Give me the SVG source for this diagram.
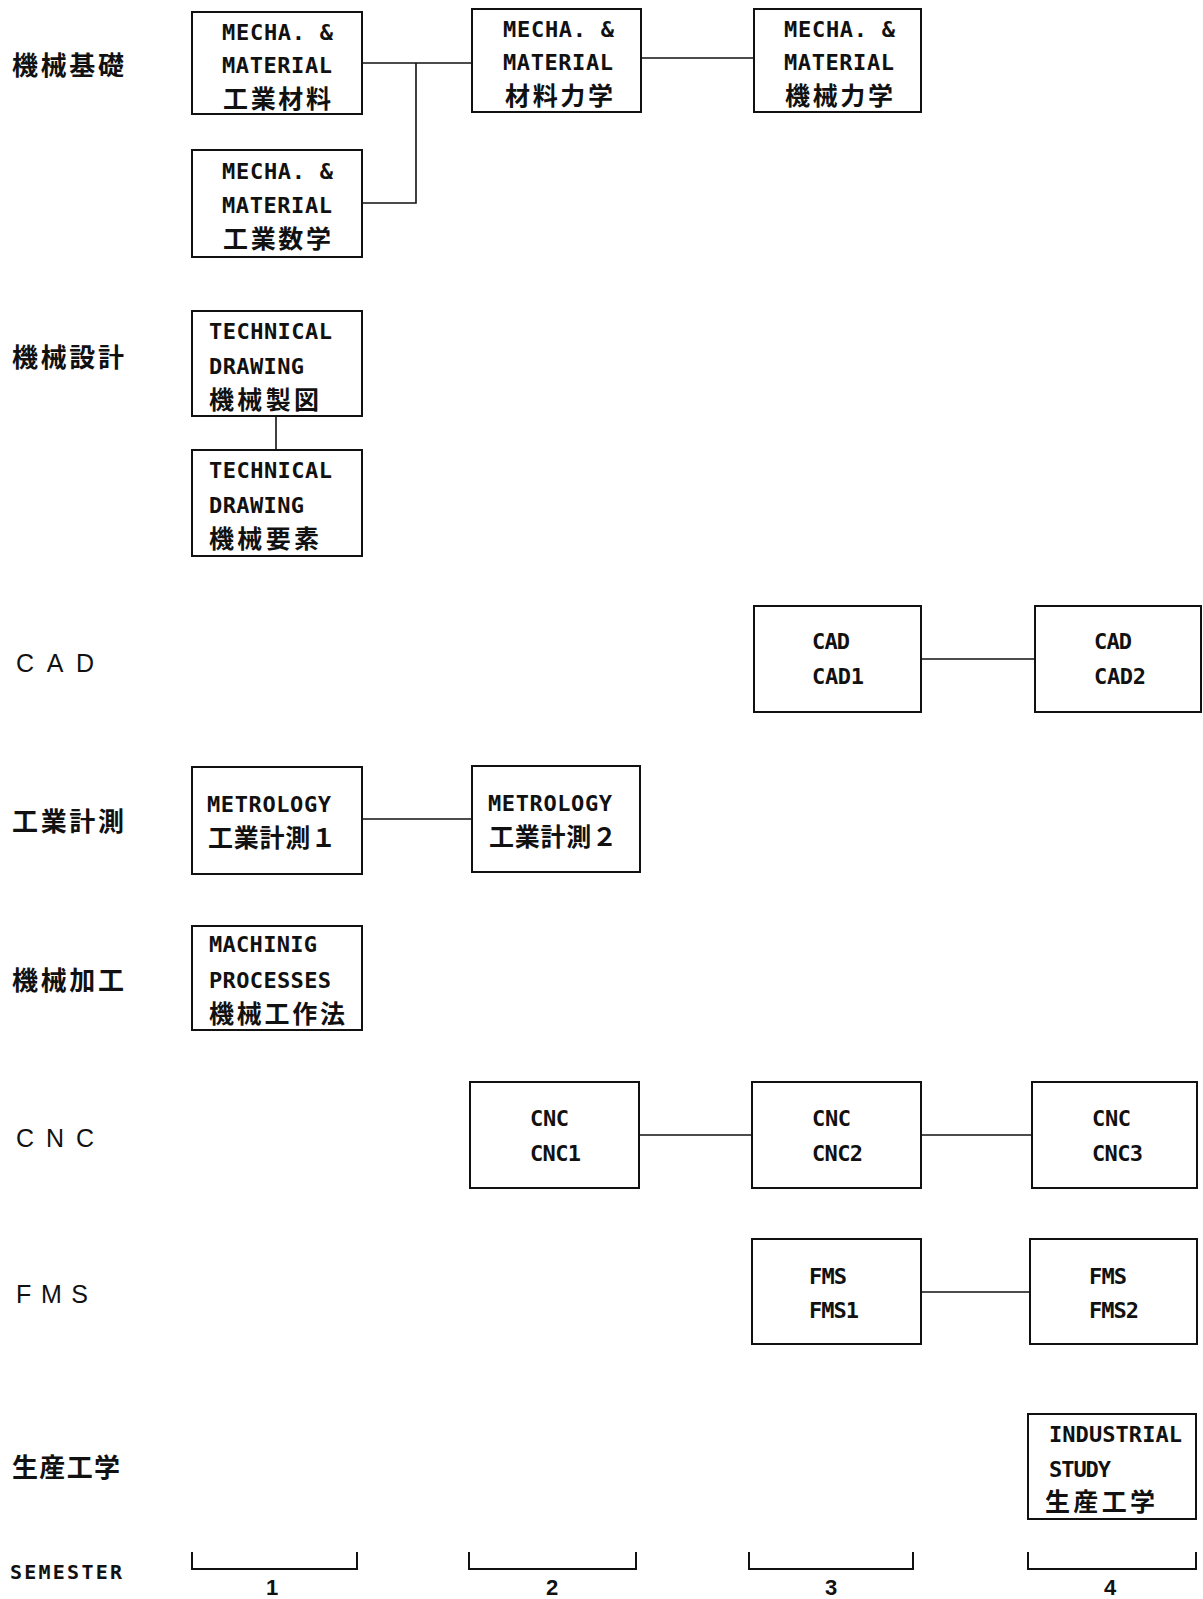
<svg xmlns="http://www.w3.org/2000/svg" width="1203" height="1599" viewBox="0 0 1203 1599">
<style>
.bg{fill:#ffffff}
.box{fill:#ffffff;stroke:#111;stroke-width:2}
.conn{fill:none;stroke:#111;stroke-width:1.6}
.br{fill:none;stroke:#111;stroke-width:2}
.en{font-family:"DejaVu Sans Mono","Liberation Mono",monospace;font-weight:bold;font-size:22px;fill:#111}
.jp{font-family:"Noto Sans CJK JP","Noto Sans CJK SC",sans-serif;font-weight:bold;font-size:25px;fill:#111}
.lab{font-family:"Noto Sans CJK JP","Noto Sans CJK SC",sans-serif;font-weight:bold;font-size:26px;fill:#111}
.labe{font-family:"Liberation Sans","DejaVu Sans",sans-serif;font-size:25px;fill:#111}
.num{font-family:"Liberation Sans","DejaVu Sans",sans-serif;font-weight:bold;font-size:22px;fill:#111}
.sem{font-family:"DejaVu Sans Mono","Liberation Mono",monospace;font-weight:bold;font-size:20px;fill:#111}
</style>
<rect class="bg" x="0" y="0" width="1203" height="1599"/>

<g id="row-labels">
<text class="lab" x="12" y="75" textLength="112" lengthAdjust="spacing">機械基礎</text>
<text class="lab" x="12" y="367" textLength="112" lengthAdjust="spacing">機械設計</text>
<text class="labe" x="16" y="672" textLength="78" lengthAdjust="spacing">C A D</text>
<text class="lab" x="12" y="831" textLength="112" lengthAdjust="spacing">工業計測</text>
<text class="lab" x="12" y="990" textLength="112" lengthAdjust="spacing">機械加工</text>
<text class="labe" x="16" y="1147" textLength="78" lengthAdjust="spacing">C N C</text>
<text class="labe" x="16" y="1303" textLength="72" lengthAdjust="spacing">F M S</text>
<text class="lab" x="12" y="1477" textLength="108" lengthAdjust="spacing">生産工学</text>
<text class="sem" x="10" y="1579" textLength="112" lengthAdjust="spacing">SEMESTER</text>
</g>

<g id="connectors">
<polyline class="conn" points="362,63 472,63"/>
<polyline class="conn" points="362,203 416,203 416,63"/>
<polyline class="conn" points="641,58 754,58"/>
<polyline class="conn" points="276,416 276,450"/>
<polyline class="conn" points="921,659 1035,659"/>
<polyline class="conn" points="362,819 472,819"/>
<polyline class="conn" points="639,1135 752,1135"/>
<polyline class="conn" points="921,1135 1032,1135"/>
<polyline class="conn" points="921,1292 1030,1292"/>
</g>

<g id="n-kogyo-zairyo">
<rect class="box" x="192" y="12" width="170" height="102"/>
<text class="en" x="222" y="40" textLength="111" lengthAdjust="spacing">MECHA. &amp;</text>
<text class="en" x="222" y="73" textLength="110" lengthAdjust="spacing">MATERIAL</text>
<text class="jp" x="223" y="108" textLength="108" lengthAdjust="spacing">工業材料</text>
</g>
<g id="n-kogyo-sugaku">
<rect class="box" x="192" y="150" width="170" height="107"/>
<text class="en" x="222" y="179" textLength="111" lengthAdjust="spacing">MECHA. &amp;</text>
<text class="en" x="222" y="213" textLength="110" lengthAdjust="spacing">MATERIAL</text>
<text class="jp" x="223" y="248" textLength="108" lengthAdjust="spacing">工業数学</text>
</g>
<g id="n-zairyo-rikigaku">
<rect class="box" x="472" y="9" width="169" height="103"/>
<text class="en" x="503" y="37" textLength="111" lengthAdjust="spacing">MECHA. &amp;</text>
<text class="en" x="503" y="70" textLength="110" lengthAdjust="spacing">MATERIAL</text>
<text class="jp" x="505" y="105" textLength="108" lengthAdjust="spacing">材料力学</text>
</g>
<g id="n-kikai-rikigaku">
<rect class="box" x="754" y="9" width="167" height="103"/>
<text class="en" x="784" y="37" textLength="111" lengthAdjust="spacing">MECHA. &amp;</text>
<text class="en" x="784" y="70" textLength="110" lengthAdjust="spacing">MATERIAL</text>
<text class="jp" x="785" y="105" textLength="108" lengthAdjust="spacing">機械力学</text>
</g>

<g id="n-kikai-seizu">
<rect class="box" x="192" y="311" width="170" height="105"/>
<text class="en" x="209" y="339" textLength="123" lengthAdjust="spacing">TECHNICAL</text>
<text class="en" x="209" y="374" textLength="95" lengthAdjust="spacing">DRAWING</text>
<text class="jp" x="209" y="409" textLength="110" lengthAdjust="spacing">機械製図</text>
</g>
<g id="n-kikai-yoso">
<rect class="box" x="192" y="450" width="170" height="106"/>
<text class="en" x="209" y="478" textLength="123" lengthAdjust="spacing">TECHNICAL</text>
<text class="en" x="209" y="513" textLength="95" lengthAdjust="spacing">DRAWING</text>
<text class="jp" x="209" y="548" textLength="110" lengthAdjust="spacing">機械要素</text>
</g>

<g id="n-cad1">
<rect class="box" x="754" y="606" width="167" height="106"/>
<text class="en" x="812" y="649" textLength="38" lengthAdjust="spacing">CAD</text>
<text class="en" x="812" y="684" textLength="52" lengthAdjust="spacing">CAD1</text>
</g>
<g id="n-cad2">
<rect class="box" x="1035" y="606" width="166" height="106"/>
<text class="en" x="1094" y="649" textLength="38" lengthAdjust="spacing">CAD</text>
<text class="en" x="1094" y="684" textLength="52" lengthAdjust="spacing">CAD2</text>
</g>

<g id="n-keisoku1">
<rect class="box" x="192" y="767" width="170" height="107"/>
<text class="en" x="207" y="812" textLength="124" lengthAdjust="spacing">METROLOGY</text>
<text class="jp" x="208" y="847" textLength="128" lengthAdjust="spacing">工業計測１</text>
</g>
<g id="n-keisoku2">
<rect class="box" x="472" y="766" width="168" height="106"/>
<text class="en" x="488" y="811" textLength="124" lengthAdjust="spacing">METROLOGY</text>
<text class="jp" x="489" y="846" textLength="128" lengthAdjust="spacing">工業計測２</text>
</g>

<g id="n-kosakuho">
<rect class="box" x="192" y="926" width="170" height="104"/>
<text class="en" x="209" y="952" textLength="108" lengthAdjust="spacing">MACHINIG</text>
<text class="en" x="209" y="988" textLength="122" lengthAdjust="spacing">PROCESSES</text>
<text class="jp" x="209" y="1023" textLength="136" lengthAdjust="spacing">機械工作法</text>
</g>

<g id="n-cnc1">
<rect class="box" x="470" y="1082" width="169" height="106"/>
<text class="en" x="530" y="1126" textLength="39" lengthAdjust="spacing">CNC</text>
<text class="en" x="530" y="1161" textLength="51" lengthAdjust="spacing">CNC1</text>
</g>
<g id="n-cnc2">
<rect class="box" x="752" y="1082" width="169" height="106"/>
<text class="en" x="812" y="1126" textLength="39" lengthAdjust="spacing">CNC</text>
<text class="en" x="812" y="1161" textLength="51" lengthAdjust="spacing">CNC2</text>
</g>
<g id="n-cnc3">
<rect class="box" x="1032" y="1082" width="165" height="106"/>
<text class="en" x="1092" y="1126" textLength="39" lengthAdjust="spacing">CNC</text>
<text class="en" x="1092" y="1161" textLength="51" lengthAdjust="spacing">CNC3</text>
</g>

<g id="n-fms1">
<rect class="box" x="752" y="1239" width="169" height="105"/>
<text class="en" x="809" y="1284" textLength="38" lengthAdjust="spacing">FMS</text>
<text class="en" x="809" y="1318" textLength="50" lengthAdjust="spacing">FMS1</text>
</g>
<g id="n-fms2">
<rect class="box" x="1030" y="1239" width="167" height="105"/>
<text class="en" x="1089" y="1284" textLength="38" lengthAdjust="spacing">FMS</text>
<text class="en" x="1089" y="1318" textLength="50" lengthAdjust="spacing">FMS2</text>
</g>

<g id="n-seisan">
<rect class="box" x="1028" y="1414" width="168" height="105"/>
<text class="en" x="1049" y="1442" textLength="133" lengthAdjust="spacing">INDUSTRIAL</text>
<text class="en" x="1049" y="1477" textLength="62" lengthAdjust="spacing">STUDY</text>
<text class="jp" x="1045" y="1511" textLength="110" lengthAdjust="spacing">生産工学</text>
</g>

<g id="semesters">
<path class="br" d="M192,1552 V1569 H357 V1552"/>
<path class="br" d="M469,1552 V1569 H636 V1552"/>
<path class="br" d="M749,1552 V1569 H913 V1552"/>
<path class="br" d="M1028,1552 V1569 H1196 V1552"/>
<text class="num" x="272" y="1595" text-anchor="middle">1</text>
<text class="num" x="552" y="1595" text-anchor="middle">2</text>
<text class="num" x="831" y="1595" text-anchor="middle">3</text>
<text class="num" x="1110" y="1595" text-anchor="middle">4</text>
</g>
</svg>
